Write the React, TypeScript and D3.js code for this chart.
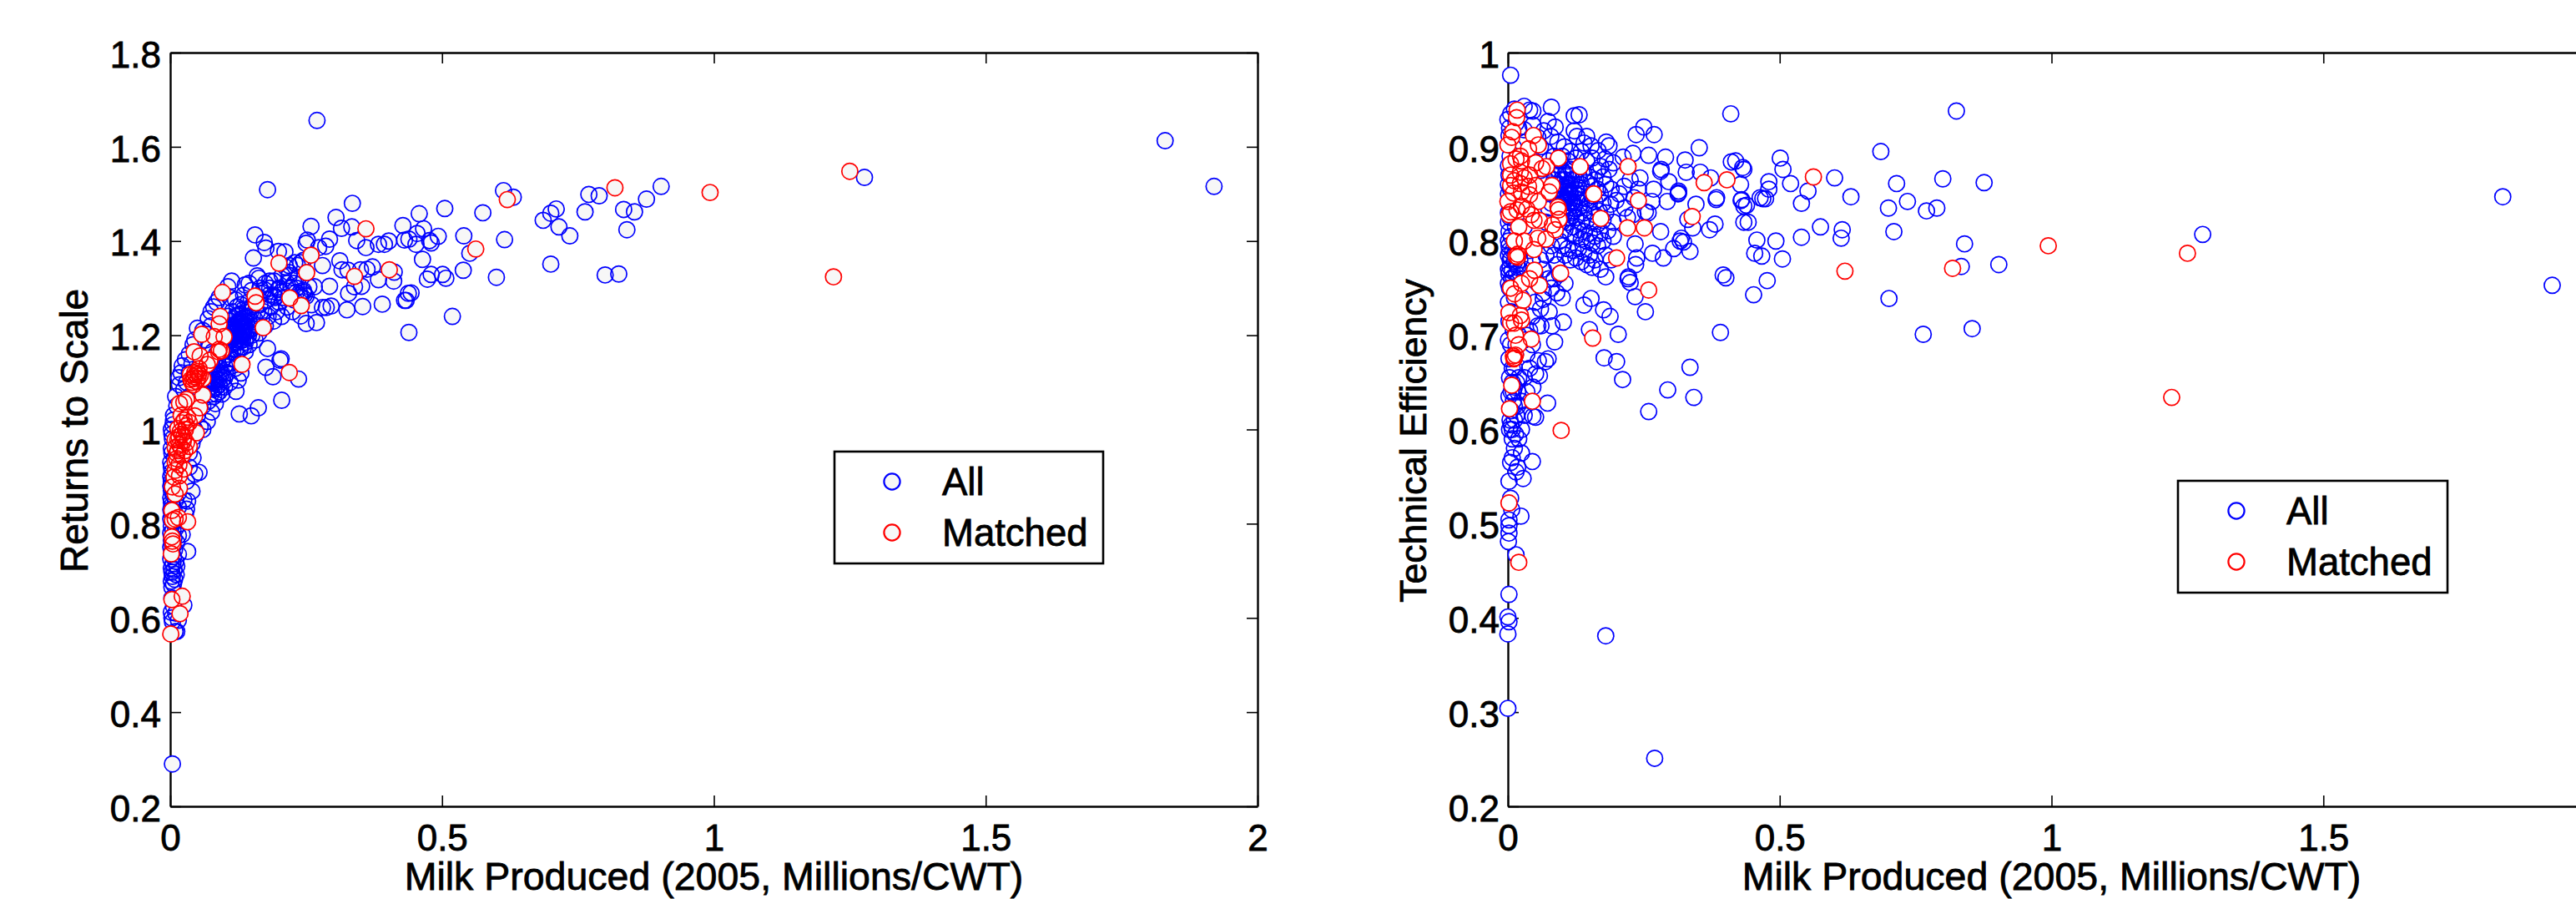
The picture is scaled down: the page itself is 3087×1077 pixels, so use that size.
import { useEffect, useRef } from 'react'
import * as d3 from 'd3'

type Pt = [number, number]

// Left panel: [milk produced, returns to scale]
const rtsAll: Pt[] = [
  [.270,1.656],[.179,1.509],[1.830,1.613],[1.920,1.516],[1.277,1.535],[.004,.290],
  [.458,1.458],[.505,1.469],[.575,1.460],[.613,1.507],[.631,1.493],[.540,1.411],[.615,1.403],[.551,1.374],[.466,1.426],[.454,1.416],
  [.493,1.410],[.477,1.401],[.480,1.396],[.452,1.393],[.439,1.404],[.464,1.361],[.539,1.338],[.600,1.323],[.480,1.329],[.473,1.319],
  [.501,1.329],[.507,1.321],[.443,1.290],[.434,1.274],[.519,1.240],[.439,1.206],[.710,1.468],[.700,1.459],[.686,1.444],[.715,1.430],
  [.735,1.411],[.700,1.351],[.763,1.462],[.770,1.499],[.789,1.496],[.834,1.467],[.854,1.462],[.876,1.489],[.903,1.516],[.840,1.424],
  [.800,1.328],[.825,1.330],
  [.335,1.480],[.305,1.450],[.315,1.427],[.334,1.430],[.259,1.431],[.156,1.413],[.173,1.397],[.176,1.385],[.153,1.364],[.199,1.378],
  [.211,1.377],[.252,1.402],[.250,1.395],[.273,1.386],[.293,1.404],[.286,1.389],[.343,1.401],[.360,1.386],[.383,1.393],[.394,1.393],
  [.402,1.400],[.428,1.433],[.431,1.402],[.280,1.348],[.312,1.358],[.316,1.339],[.327,1.338],[.350,1.339],[.372,1.345],[.362,1.340],
  [.383,1.318],[.411,1.315],[.412,1.334],[.352,1.304],[.328,1.289],[.339,1.303],[.293,1.304],[.265,1.303],[.287,1.259],[.296,1.262],
  [.280,1.259],[.325,1.254],[.354,1.261],[.390,1.266],[.431,1.274],[.438,1.289],[.250,1.225],[.269,1.227],[.240,1.241],[.260,1.265],
  [.179,1.172],[.202,1.147],[.204,1.150],[.176,1.132],[.189,1.112],[.236,1.107],[.205,1.062],[.162,1.046],[.149,1.029],[.127,1.033],
  [.121,1.081],
  [.113,1.315],[.106,1.303],[.138,1.307],[.160,1.326],[.163,1.321],[.183,1.315],[.191,1.315],[.173,1.297],[.199,1.297],[.183,1.286],
  [.193,1.280],[.204,1.291],[.245,1.291],[.247,1.286],[.240,1.280],[.232,1.291],[.250,1.283],[.219,1.348],[.229,1.354],[.234,1.348],
  [.240,1.354],[.219,1.327],[.206,1.327],[.255,1.303],[.219,1.333],[.245,1.359],[.228,1.31],[.212,1.345],[.236,1.322],[.222,1.302],
  [.085,1.195],[.09,1.21],[.095,1.185],[.098,1.225],[.10,1.2],[.102,1.175],[.105,1.215],[.106,1.24],[.108,1.19],[.11,1.165],
  [.11,1.23],[.112,1.205],[.114,1.25],[.115,1.18],[.116,1.22],[.118,1.195],[.12,1.24],[.12,1.17],[.122,1.21],[.123,1.26],
  [.125,1.185],[.125,1.228],[.127,1.2],[.128,1.245],[.13,1.215],[.13,1.175],[.132,1.235],[.133,1.19],[.135,1.255],[.135,1.205],
  [.137,1.222],[.138,1.165],[.14,1.24],[.14,1.195],[.142,1.21],[.143,1.27],[.145,1.23],[.145,1.18],[.148,1.25],[.15,1.2],
  [.15,1.215],[.152,1.265],[.155,1.235],[.156,1.19],[.158,1.28],[.16,1.25],[.16,1.22],[.163,1.205],[.165,1.265],[.168,1.235],
  [.17,1.29],[.172,1.25],[.175,1.22],[.178,1.275],[.18,1.24],[.183,1.3],[.185,1.26],[.19,1.23],[.19,1.285],[.195,1.25],
  [.2,1.27],[.2,1.3],[.205,1.24],[.21,1.28],[.215,1.31],[.215,1.26],[.22,1.29],[.225,1.25],[.228,1.275],[.232,1.3],
  [.238,1.285],[.24,1.27],[.245,1.295],[.118,1.218],[.126,1.212],[.134,1.226],[.128,1.198],[.12,1.205],[.136,1.238],[.124,1.242],
  [.142,1.25],[.15,1.26],[.13,1.265],[.12,1.275],[.11,1.28],[.135,1.285],[.15,1.295],[.165,1.3],[.175,1.31],[.145,1.31],
  [.122,1.225],[.128,1.232],[.133,1.212],[.138,1.205],[.126,1.205],[.13,1.228],[.135,1.218],[.14,1.228],[.118,1.235],[.124,1.19],
  [.132,1.198],[.138,1.185],[.144,1.2],[.148,1.212],[.116,1.205],[.112,1.19],[.108,1.21],[.104,1.195],[.12,1.185],[.115,1.165],
  [.122,1.16],[.128,1.17],[.135,1.175],[.11,1.15],[.105,1.16],[.098,1.165],[.1,1.135],[.105,1.14],[.095,1.12],[.09,1.115],
  [.085,1.125],[.08,1.105],[.075,1.115],[.07,1.125],[.085,1.09],[.09,1.08],[.095,1.105],[.065,1.1],[.06,1.11],[.055,1.1],
  [.05,1.09],[.06,1.08],[.07,1.085],[.08,1.07],[.075,1.075],[.088,1.105],[.082,1.115],[.078,1.098],[.092,1.09],[.072,1.098],
  [.05,1.215],[.045,1.19],[.042,1.18],[.035,1.16],[.028,1.148],[.022,1.135],[.02,1.12],[.016,1.11],[.017,1.095],[.06,1.21],
  [.07,1.235],[.075,1.25],[.08,1.26],[.085,1.27],[.09,1.28],[.075,1.22],[.065,1.19],[.07,1.14],[.075,1.13],[.08,1.12],
  [.085,1.1],[.09,1.13],[.095,1.145],[.07,1.105],[.075,1.09],[.08,1.085],[.09,1.095],[.1,1.11],[.105,1.12],[.11,1.14],
  [.115,1.15],[.12,1.13],[.125,1.105],[.13,1.12],[.065,1.12],[.06,1.095],[.055,1.08],[.068,1.017],[.076,1.037],[.083,1.055],
  [.07,1.06],[.06,1.05],[.085,1.16],[.092,1.165],[.098,1.15],[.088,1.14],[.082,1.15],[.078,1.165],[.072,1.175],[.1,1.09],
  [.095,1.075],[.085,1.075],[.11,1.1],[.03,1.1],[.035,1.12],[.04,1.14],[.025,1.085],[.01,1.07],[.012,1.05],[.006,1.03],
  [.005,1.01],[.05,1.03],[.055,1.005],[.06,1.0],[.045,1.0],[.04,.97],[.035,.95],[.042,.94],[.045,.985],
  [.053,.909],[.045,.905],[.040,.869],[.032,.848],[.030,.831],[.032,.741],[.022,.777],[.028,.82],[.025,.85],[.03,.89],[.035,.92],
  [.009,.571],[.003,.600],[.004,.592],[.012,.571],[.002,.612],[.025,.627],[.003,.642],[.006,.625],[.01,.61],[.015,.595],
  [.003,.665],[.006,.672],[.002,.678],[.008,.682],[.004,.688],[.011,.692],[.003,.697],[.007,.702],[.002,.706],[.012,.71],[.005,.715],[.01,.72],
  [.001,.725],[.006,.73],[.015,.735],[.003,.74],[.008,.745],[.001,.75],[.004,.755],[.012,.76],[.002,.765],[.007,.77],[.015,.775],[.001,.78],
  [.005,.785],[.01,.79],[.002,.795],[.018,.8],[.006,.805],[.001,.81],[.012,.815],[.003,.82],[.008,.825],[.001,.83],[.015,.835],[.004,.84],
  [.002,.845],[.01,.85],[.001,.855],[.006,.86],[.015,.865],[.002,.87],[.004,.875],[.001,.88],[.012,.885],[.002,.89],[.006,.895],[.001,.9],
  [.018,.905],[.003,.91],[.01,.915],[.002,.92],[.001,.93],[.008,.94],[.003,.95],[.002,.96],[.012,.97],[.004,.98],[.003,.99],[.002,1.0],[.006,1.02],
  [.02,.93],[.025,.96],[.028,.99],[.032,1.02],[.036,1.04],[.03,1.05],[.025,1.03],[.02,1.01],
]

const rtsMatched: Pt[] = [
  [.620,1.488],[.562,1.383],[.818,1.513],[.993,1.503],[1.250,1.548],[1.220,1.324],
  [.096,1.291],[.156,1.283],[.158,1.269],[.220,1.279],[.241,1.263],[.171,1.216],[.092,1.240],[.090,1.224],[.058,1.202],[.081,1.197],
  [.099,1.197],[.044,1.165],[.090,1.170],[.094,1.167],[.089,1.165],[.055,1.156],[.073,1.147],[.068,1.138],[.132,1.138],[.219,1.121],
  [.200,1.353],[.259,1.370],[.251,1.333],[.360,1.426],[.339,1.325],[.403,1.339],
  [.045,1.120],[.050,1.123],[.042,1.108],[.055,1.114],[.040,1.100],[.048,1.102],[.060,1.108],[.037,1.117],[.053,1.129],[.060,1.073],
  [.044,1.112],[.047,1.116],[.051,1.108],[.038,1.106],[.043,1.095],[.052,1.118],
  [.030,1.064],[.017,1.055],[.025,1.058],[.054,1.046],[.032,1.026],[.045,1.029],[.022,1.014],[.048,.993],[.014,1.002],[.030,1.008],
  [.026,1.02],[.02,1.03],[.035,1.015],[.028,1.0],[.018,.995],[.024,.975],[.016,.985],[.02,.962],[.014,.955],[.022,.945],[.012,.938],[.016,.925],
  [.009,.978],[.025,.984],[.017,.967],[.035,.964],[.022,.990],[.014,.978],[.030,.972],[.009,.961],[.027,.955],[.012,.949],
  [.009,.931],[.025,.916],[.009,.913],[.007,.899],[.017,.902],[.004,.878],[.017,.875],[.009,.863],[.003,.828],[.009,.810],
  [.015,.813],[.004,.807],[.032,.804],[.003,.772],[.004,.763],[.005,.757],[.002,.736],[.003,.639],[.022,.646],[.018,.609],[.001,.566],
]

// Right panel: [milk produced, technical efficiency]
const teAll: Pt[] = [
  [1.830,.847],[1.921,.753],[1.278,.807],[.180,.381],[.270,.251],[.000,.304],[.000,.383],[.002,.396],[.000,.401],[.002,.425],
  [.005,.976],[.080,.942],[.122,.933],[.131,.934],[.410,.935],[.250,.921],[.236,.913],[.269,.913],[.352,.899],[.259,.891],
  [.290,.889],[.326,.886],[.411,.884],[.328,.873],[.282,.876],[.281,.874],[.354,.873],[.373,.867],[.296,.863],[.434,.876],
  [.314,.851],[.314,.853],[.313,.850],[.293,.842],[.383,.844],[.384,.846],[.429,.843],[.434,.837],[.346,.839],[.268,.855],
  [.265,.842],[.281,.810],[.381,.818],[.371,.812],[.340,.814],[.331,.823],[.319,.803],[.317,.800],[.323,.799],[.335,.789],
  [.305,.792],[.286,.782],[.266,.787],[.234,.797],[.434,.820],[.396,.764],[.401,.761],[.180,.762],[.222,.762],[.221,.760],
  [.225,.756],[.235,.775],[.237,.782],[.234,.741],[.253,.725],[.153,.739],[.140,.732],[.076,.725],[.176,.727],[.188,.720],
  [.102,.714],[.150,.706],[.203,.701],[.391,.703],[.177,.676],[.200,.672],[.211,.653],[.335,.666],[.294,.642],[.342,.634],
  [.259,.619],[.073,.628],[.051,.613],[.046,.614],[.045,.566],[.028,.548],[.002,.545],[.061,.710],[.081,.710],[.086,.693],
  [.074,.675],[.056,.673],[.069,.672],[.058,.657],[.051,.659],[.046,.645],[.024,.508],[.002,.504],[.002,.498],[.002,.490],
  [.001,.481],[.015,.467],[.005,.527],[.007,.515],
  [.825,.938],[.686,.895],[.501,.888],[.506,.876],[.432,.878],[.419,.885],[.601,.867],[.520,.861],[.480,.863],[.480,.855],
  [.428,.860],[.552,.853],[.631,.847],[.464,.846],[.469,.845],[.474,.845],[.430,.844],[.439,.838],[.540,.840],[.715,.861],
  [.800,.866],[.876,.862],[.735,.842],[.700,.835],[.770,.832],[.789,.835],[.710,.810],[.442,.820],[.575,.815],[.540,.804],
  [.615,.812],[.613,.803],[.458,.801],[.493,.800],[.454,.787],[.467,.784],[.505,.781],[.477,.758],[.452,.743],[.701,.739],
  [.840,.797],[.834,.773],[.903,.775],[.764,.701],[.854,.707],
  [.005,.935],[.000,.929],[.030,.943],[.040,.939],[.046,.938],[.046,.923],[.074,.927],[.087,.921],[.066,.917],[.079,.911],
  [.092,.905],[.104,.900],[.122,.917],[.127,.911],[.145,.911],[.140,.904],[.153,.901],[.181,.905],[.186,.901],[.166,.896],
  [.179,.887],[.194,.883],[.212,.889],[.230,.893],[.186,.876],[.171,.879],[.243,.867],[.225,.865],[.214,.858],[.240,.855],
  [.232,.846],[.199,.843],[.189,.839],[.253,.831],[.258,.830],[.230,.828],[.194,.820],[.184,.811],[.194,.805],[.168,.832],
  [.03,.918],[.055,.91],[.06,.9],[.07,.895],[.085,.89],[.095,.885],[.1,.89],[.11,.885],[.115,.895],[.125,.888],
  [.135,.895],[.145,.885],[.155,.888],[.165,.875],[.175,.868],[.18,.86],[.19,.855],[.205,.85],[.215,.835],[.22,.825],
  [.08,.875],[.085,.865],[.09,.87],[.095,.86],[.1,.875],[.105,.865],[.11,.87],[.115,.86],[.12,.875],[.125,.865],
  [.13,.87],[.135,.86],[.14,.872],[.145,.862],[.15,.868],[.155,.858],[.16,.865],[.165,.855],[.085,.85],[.09,.845],
  [.095,.855],[.1,.848],[.105,.852],[.11,.845],[.115,.85],[.12,.842],[.125,.855],[.13,.848],[.135,.84],[.14,.85],
  [.145,.845],[.15,.84],[.155,.848],[.16,.842],[.17,.85],[.175,.84],[.1,.835],[.105,.83],[.11,.838],[.115,.825],
  [.12,.832],[.125,.825],[.13,.835],[.135,.82],[.14,.83],[.145,.822],[.15,.832],[.155,.82],[.16,.828],[.165,.818],
  [.095,.84],[.102,.857],[.107,.843],[.112,.856],[.117,.84],[.122,.851],[.098,.865],[.108,.86],[.118,.865],[.102,.84],
  [.112,.835],[.122,.838],[.092,.855],[.1,.83],[.108,.825],[.118,.83],[.106,.872],[.116,.876],[.126,.845],[.13,.857],
  [.11,.848],[.104,.858],[.114,.852],[.096,.848],[.088,.86],[.094,.87],[.103,.846],[.113,.842],
  [.175,.822],[.18,.83],[.1,.82],[.105,.812],[.11,.82],[.115,.808],[.12,.815],[.125,.805],[.13,.812],[.135,.802],
  [.14,.81],[.145,.8],[.15,.808],[.155,.798],[.16,.805],[.165,.795],[.17,.808],[.175,.8],[.095,.8],[.1,.795],
  [.105,.785],[.11,.792],[.115,.78],[.12,.79],[.125,.782],[.13,.792],[.135,.778],[.14,.788],[.145,.775],[.15,.785],
  [.155,.772],[.16,.78],[.17,.77],[.18,.785],[.19,.78],[.08,.795],[.085,.785],[.09,.775],[.07,.785],[.06,.78],
  [.065,.77],[.075,.76],[.085,.76],[.095,.765],[.105,.755],[.1,.74],[.09,.745],[.08,.75],[.065,.745],[.055,.755],
  [.05,.765],[.045,.78],[.04,.79],[.07,.82],[.075,.835],[.08,.84],[.07,.85],[.07,.865],[.06,.875],[.075,.885],
  [.065,.738],[.06,.728],[.05,.735],[.045,.72],[.055,.71],[.04,.705],[.035,.7],[.03,.695],[.045,.69],[.035,.68],
  [.04,.665],[.03,.655],[.035,.64],[.025,.63],[.03,.615],[.025,.6],[.02,.59],[.025,.575],[.018,.56],[.012,.58],
  [.008,.57],[.015,.555],[.005,.565],[.008,.59],[.003,.6],[.012,.61],[.006,.62],[.018,.625],[.002,.635],[.01,.64],
  [.016,.65],[.003,.655],[.008,.665],[.002,.675],[.014,.68],[.005,.69],[.001,.695],[.01,.705],[.002,.715],[.006,.725],
  [.001,.735],[.012,.74],[.003,.75],[.001,.755],[.007,.76],[.002,.765],[.001,.77],[.016,.775],[.004,.78],[.001,.785],
  [.009,.79],[.002,.795],[.001,.8],[.006,.805],[.002,.81],[.014,.815],[.001,.82],[.004,.825],[.001,.83],[.008,.835],
  [.002,.84],[.001,.85],[.005,.855],[.001,.86],[.002,.87],[.001,.88],[.004,.89],[.01,.9],[.002,.912],[.015,.925],
  [.012,.94],[.003,.92],[.02,.92],[.025,.905],[.03,.875],[.035,.84],[.03,.815],[.025,.79],[.03,.77],[.02,.76],
  [.025,.74],[.02,.725],[.015,.71],[.02,.7],[.015,.69],[.012,.665],[.018,.64],[.012,.625],
  [.004,.772],[.008,.768],[.012,.778],[.016,.765],[.006,.782],[.01,.762],[.014,.788],[.018,.772],[.022,.78],[.003,.79],
  [.008,.6],[.014,.595],[.006,.605],[.01,.63],[.016,.615],[.004,.61],[.012,.645],[.02,.655],[.008,.65],[.006,.64],
]

const teMatched: Pt[] = [
  [1.250,.787],[1.221,.634],[.562,.868],[.620,.768],[.818,.771],[.994,.795],
  [.093,.888],[.133,.879],[.158,.850],[.171,.824],[.221,.879],[.240,.843],[.220,.814],[.251,.814],[.200,.782],[.361,.862],
  [.403,.865],[.339,.826],[.259,.748],[.097,.766],[.156,.697],[.098,.599],[.045,.630],[.003,.622],[.007,.647],[.012,.676],
  [.010,.678],[.014,.679],[.011,.675],[.043,.696],[.020,.690],[.014,.700],[.020,.459],[.002,.522],[.025,.716],[.005,.713],
  [.017,.939],[.016,.931],[.009,.916],[.007,.910],[.000,.902],[.047,.912],[.056,.902],[.038,.898],[.023,.890],[.015,.887],
  [.025,.885],[.005,.882],[.051,.883],[.071,.879],[.063,.877],[.005,.870],[.023,.873],[.030,.867],[.040,.870],[.012,.864],
  [.005,.859],[.023,.861],[.038,.858],[.051,.859],[.081,.859],[.076,.852],[.025,.852],[.010,.851],[.040,.849],[.056,.842],
  [.000,.842],[.092,.836],[.093,.833],[.025,.837],[.017,.833],[.005,.831],[.002,.828],[.035,.834],[.043,.828],[.058,.822],
  [.048,.822],[.094,.823],[.082,.817],[.087,.812],[.020,.815],[.012,.800],[.030,.800],[.055,.803],[.070,.802],[.048,.791],
  [.018,.786],[.015,.784],[.018,.783],[.049,.769],[.040,.760],[.025,.755],[.058,.753],[.005,.750],[.012,.744],[.028,.737],
  [.002,.724],[.023,.721],[.012,.713],
]

const xTicks = [0, 0.5, 1, 1.5, 2]
const xTicksCropped = [0, 0.5, 1, 1.5] // the right panel runs off the page before 2
const rtsTicks = [0.2, 0.4, 0.6, 0.8, 1, 1.2, 1.4, 1.6, 1.8]
const teTicks = [0.2, 0.3, 0.4, 0.5, 0.6, 0.7, 0.8, 0.9, 1]
const legendLabels = ['All', 'Matched']
const seriesColors = ['#0000ff', '#ff0000']

const W = 3087
const H = 1077
const plotTop = 63
const plotBottom = 966
const plotWidth = 1303
const font = '"Liberation Sans", Arial, sans-serif'

type Panel = {
  left: number
  xTicks: number[]
  yDomain: [number, number]
  yTicks: number[]
  yLabel: string
  yLabelX: number
  yLabelY: number
  yLabelSize: number
  tickPad: number
  all: Pt[]
  matched: Pt[]
  fill: string
  legend: { x: number; y: number; w: number; h: number; dotX: number; dotY: number[]; textX: number }
}

const panels: Panel[] = [
  {
    left: 204, xTicks, yDomain: [0.2, 1.8], yTicks: rtsTicks, yLabel: 'Returns to Scale', yLabelX: 105, yLabelY: 516, yLabelSize: 46,
    tickPad: 11, all: rtsAll, matched: rtsMatched, fill: '#f7f7f7',
    legend: { x: 1000, y: 541, w: 322, h: 134, dotX: 1069, dotY: [577, 638], textX: 1129 },
  },
  {
    left: 1807, xTicks: xTicksCropped, yDomain: [0.2, 1], yTicks: teTicks, yLabel: 'Technical Efficiency', yLabelX: 1709, yLabelY: 528, yLabelSize: 44.5,
    tickPad: 10, all: teAll, matched: teMatched, fill: '#ffffff',
    legend: { x: 2610, y: 576, w: 323, h: 134, dotX: 2680, dotY: [612, 673], textX: 2740 },
  },
]

// The reference text is a little heavier than the plain face
const heavy = (sel: any) => sel.attr('stroke', '#000').attr('stroke-width', 0.8).attr('fill', '#000')

export default function App() {
  const ref = useRef<SVGSVGElement>(null)

  useEffect(() => {
    const svg = d3.select(ref.current)
    svg.selectAll('*').remove()

    panels.forEach(p => {
      const x = d3.scaleLinear().domain([0, 2]).range([p.left, p.left + plotWidth])
      const y = d3.scaleLinear().domain(p.yDomain).range([plotBottom, plotTop])
      const g = svg.append('g')

      const styleAxis = (a: any) => {
        a.selectAll('line').attr('stroke', '#000').attr('stroke-width', 1.6)
        a.select('.domain').attr('stroke', '#000').attr('stroke-width', 2.4)
        a.selectAll('text')
          .call(heavy)
          .style('font-family', font)
          .style('font-size', '44px')
      }

      // box with ticks on all four sides, like a MATLAB axes
      g.append('g')
        .attr('transform', `translate(0,${plotBottom})`)
        .call(d3.axisBottom(x).tickValues(p.xTicks).tickSizeInner(-13).tickSizeOuter(0).tickPadding(22).tickFormat(d => String(d)))
        .call(styleAxis)
      g.append('g')
        .attr('transform', `translate(0,${plotTop})`)
        .call(d3.axisTop(x).tickValues(p.xTicks).tickSizeInner(-13).tickSizeOuter(0).tickFormat(() => ''))
        .call(styleAxis)
      g.append('g')
        .attr('transform', `translate(${p.left},0)`)
        .call(d3.axisLeft(y).tickValues(p.yTicks).tickSizeInner(-13).tickSizeOuter(0).tickPadding(p.tickPad).tickFormat(d => String(d)))
        .call(styleAxis)
        .call(a => a.selectAll('text').attr('dy', '0.39em'))
      g.append('g')
        .attr('transform', `translate(${p.left + plotWidth},0)`)
        .call(d3.axisRight(y).tickValues(p.yTicks).tickSizeInner(-13).tickSizeOuter(0).tickFormat(() => ''))
        .call(styleAxis)

      // Fill of a series goes under all of its outlines
      ;[p.all, p.matched].forEach((pts, i) => {
        g.append('g').selectAll('circle').data(pts).join('circle')
          .attr('cx', d => x(d[0]))
          .attr('cy', d => y(d[1]))
          .attr('r', 9.6)
          .attr('fill', p.fill)
        g.append('g').selectAll('circle').data(pts).join('circle')
          .attr('cx', d => x(d[0]))
          .attr('cy', d => y(d[1]))
          .attr('r', 9.6)
          .attr('fill', 'none')
          .attr('stroke', seriesColors[i])
          .attr('stroke-width', 1.7)
      })

      // Axis titles
      g.append('text')
        .attr('x', x(1))
        .attr('y', 1066)
        .attr('text-anchor', 'middle')
        .call(heavy)
        .style('font-family', font)
        .style('font-size', '46.5px')
        .text('Milk Produced (2005, Millions/CWT)')
      g.append('text')
        .attr('transform', `translate(${p.yLabelX},${p.yLabelY}) rotate(-90)`)
        .attr('text-anchor', 'middle')
        .call(heavy)
        .style('font-family', font)
        .style('font-size', `${p.yLabelSize}px`)
        .text(p.yLabel)

      // Legend
      const l = p.legend
      g.append('rect')
        .attr('x', l.x).attr('y', l.y).attr('width', l.w).attr('height', l.h)
        .attr('fill', '#fff').attr('stroke', '#000').attr('stroke-width', 2.6)
      legendLabels.forEach((label, i) => {
        g.append('circle')
          .attr('cx', l.dotX).attr('cy', l.dotY[i]).attr('r', 9.6)
          .attr('fill', p.fill).attr('stroke', seriesColors[i]).attr('stroke-width', 2.2)
        g.append('text')
          .attr('x', l.textX).attr('y', l.dotY[i] + 16)
          .call(heavy)
          .style('font-family', font)
          .style('font-size', '45.5px')
          .text(label)
      })
    })
  }, [])

  return (
    <svg
      ref={ref}
      width={W}
      height={H}
      style={{ position: 'absolute', left: 0, top: 0, display: 'block', background: '#fff' }}
    />
  )
}
